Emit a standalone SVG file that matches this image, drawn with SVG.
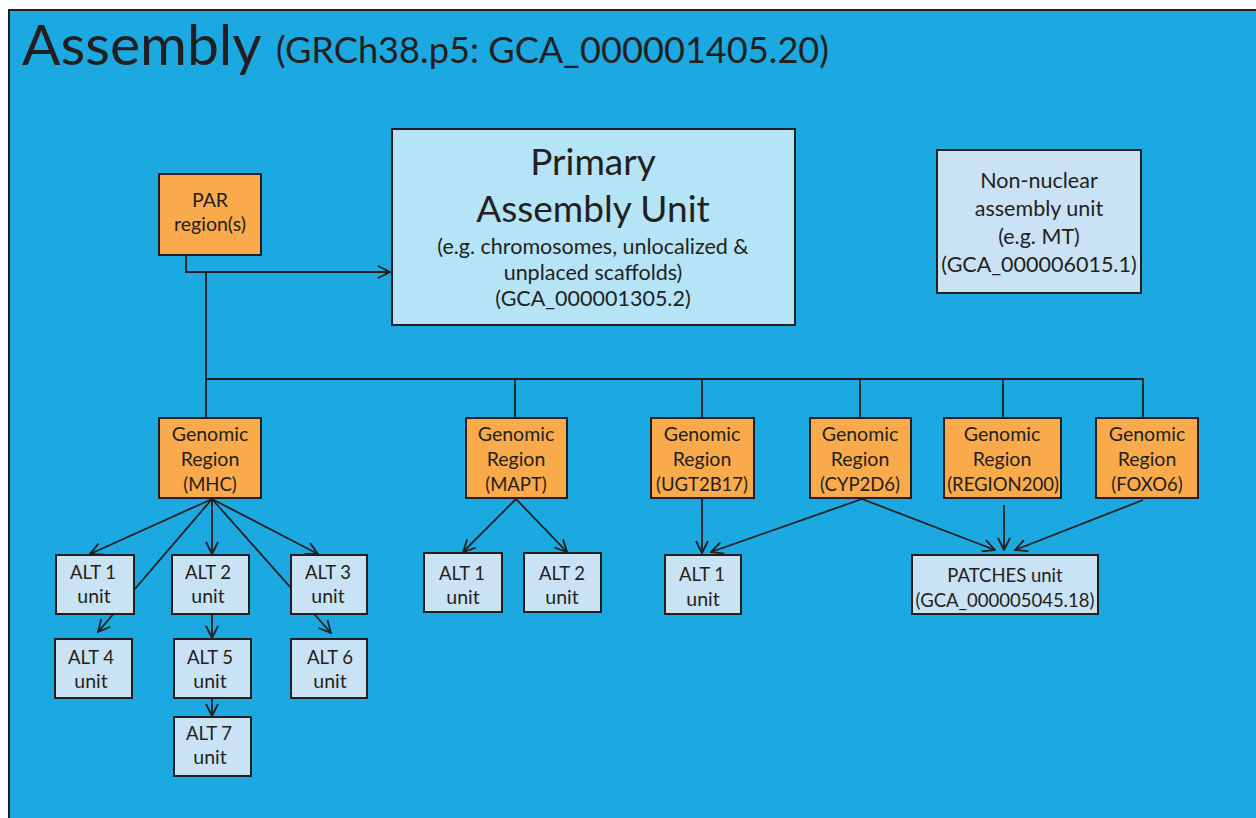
<svg xmlns="http://www.w3.org/2000/svg" width="1256" height="818" viewBox="0 0 1256 818">
<defs>
<style>
.t{font-family:Lato,"Open Sans","Liberation Sans",sans-serif;fill:#231F20;text-anchor:middle}
.s{font-size:19.5px}
.c{font-size:18.5px}
.org{fill:#F9AA4B;stroke:#231F20;stroke-width:2}
.lt{fill:#C9E2F4;stroke:#231F20;stroke-width:2}
.pr{fill:#B5E4F6;stroke:#231F20;stroke-width:2}
.ln{fill:none;stroke:#231F20;stroke-width:1.8}
</style>
<marker id="ar" viewBox="0 0 14 14" refX="13" refY="7" markerWidth="14" markerHeight="14" orient="auto" markerUnits="userSpaceOnUse">
<path d="M1,1 L13,7 L1,13" fill="none" stroke="#231F20" stroke-width="1.8"/>
</marker>
</defs>
<rect x="0" y="0" width="1256" height="818" fill="#FFFFFF"/>
<rect id="frame" x="9" y="10" width="1262" height="822" fill="#1CA8E0" stroke="#231F20" stroke-width="2"/>
<g id="title">
<text x="22" y="65" font-family="Lato,'Open Sans','Liberation Sans',sans-serif" font-size="57" fill="#231F20">Assembly</text>
<text x="276" y="63" font-family="Lato,'Open Sans','Liberation Sans',sans-serif" font-size="36.2" fill="#231F20">(GRCh38.p5: GCA_000001405.20)</text>
</g>
<g id="connectors">
<polyline class="ln" points="186,255 186,272 390,272" marker-end="url(#ar)"/>
<line class="ln" x1="206" y1="272" x2="206" y2="379"/>
<polyline class="ln" points="206,418 206,379 1143,379 1143,418"/>
<line class="ln" x1="515" y1="379" x2="515" y2="418"/>
<line class="ln" x1="702" y1="379" x2="702" y2="418"/>
<line class="ln" x1="860" y1="379" x2="860" y2="418"/>
<line class="ln" x1="1003" y1="379" x2="1003" y2="418"/>
<line class="ln" x1="212" y1="499" x2="90" y2="554" marker-end="url(#ar)"/>
<line class="ln" x1="212" y1="499" x2="98" y2="632" marker-end="url(#ar)"/>
<line class="ln" x1="212" y1="499" x2="212" y2="554" marker-end="url(#ar)"/>
<line class="ln" x1="212" y1="499" x2="331" y2="633" marker-end="url(#ar)"/>
<line class="ln" x1="212" y1="499" x2="318" y2="554" marker-end="url(#ar)"/>
<line class="ln" x1="212" y1="614" x2="212" y2="638" marker-end="url(#ar)"/>
<line class="ln" x1="212" y1="698" x2="212" y2="716" marker-end="url(#ar)"/>
<line class="ln" x1="516" y1="499" x2="463" y2="552" marker-end="url(#ar)"/>
<line class="ln" x1="516" y1="499" x2="567" y2="552" marker-end="url(#ar)"/>
<line class="ln" x1="702" y1="499" x2="702" y2="553" marker-end="url(#ar)"/>
<line class="ln" x1="862" y1="499" x2="711" y2="552" marker-end="url(#ar)"/>
<line class="ln" x1="862" y1="499" x2="995" y2="550" marker-end="url(#ar)"/>
<line class="ln" x1="1004" y1="505" x2="1004" y2="550" marker-end="url(#ar)"/>
<line class="ln" x1="1143" y1="500" x2="1015" y2="550" marker-end="url(#ar)"/>
</g>
<g id="par">
<rect class="org" x="159" y="174" width="102" height="81"/>
<text class="t s" x="210" y="207">PAR</text>
<text class="t s" x="210" y="231">region(s)</text>
</g>
<g id="primary">
<rect class="pr" x="392" y="129" width="403" height="196"/>
<text class="t" font-size="37" x="593" y="175">Primary</text>
<text class="t" font-size="37" x="593" y="222">Assembly Unit</text>
<text class="t" font-size="21.5" x="593" y="254">(e.g. chromosomes, unlocalized &amp;</text>
<text class="t" font-size="21.5" x="593" y="280">unplaced scaffolds)</text>
<text class="t" font-size="21.5" x="593" y="306">(GCA_000001305.2)</text>
</g>
<g id="nonnuclear">
<rect class="lt" x="937" y="150" width="204" height="143"/>
<text class="t" font-size="21.5" x="1039" y="188">Non-nuclear</text>
<text class="t" font-size="21.5" x="1039" y="216">assembly unit</text>
<text class="t" font-size="21.5" x="1039" y="244">(e.g. MT)</text>
<text class="t" font-size="21.5" x="1039" y="272">(GCA_000006015.1)</text>
</g>
<g id="gr-mhc">
<rect class="org" x="159" y="418" width="102" height="80"/>
<text class="t s" x="210" y="441">Genomic</text>
<text class="t s" x="210" y="466">Region</text>
<text class="t c" x="210" y="491">(MHC)</text>
</g>
<g id="gr-mapt">
<rect class="org" x="466" y="418" width="101" height="80"/>
<text class="t s" x="516" y="441">Genomic</text>
<text class="t s" x="516" y="466">Region</text>
<text class="t c" x="516" y="491">(MAPT)</text>
</g>
<g id="gr-ugt">
<rect class="org" x="651" y="418" width="103" height="80"/>
<text class="t s" x="702" y="441">Genomic</text>
<text class="t s" x="702" y="466">Region</text>
<text class="t c" x="702" y="491">(UGT2B17)</text>
</g>
<g id="gr-cyp">
<rect class="org" x="810" y="418" width="101" height="80"/>
<text class="t s" x="860" y="441">Genomic</text>
<text class="t s" x="860" y="466">Region</text>
<text class="t c" x="860" y="491">(CYP2D6)</text>
</g>
<g id="gr-region200">
<rect class="org" x="944" y="418" width="117" height="80"/>
<text class="t s" x="1002" y="441">Genomic</text>
<text class="t s" x="1002" y="466">Region</text>
<text class="t c" x="1003" y="491">(REGION200)</text>
</g>
<g id="gr-foxo6">
<rect class="org" x="1096" y="418" width="102" height="80"/>
<text class="t s" x="1147" y="441">Genomic</text>
<text class="t s" x="1147" y="466">Region</text>
<text class="t c" x="1147" y="491">(FOXO6)</text>
</g>
<g id="mhc-alt1">
<rect class="lt" x="56" y="555" width="78" height="59"/>
<text class="t c" x="93" y="579">ALT 1</text>
<text class="t s" x="94" y="603">unit</text>
</g>
<g id="mhc-alt2">
<rect class="lt" x="172" y="555" width="77" height="59"/>
<text class="t c" x="208" y="579">ALT 2</text>
<text class="t s" x="208" y="603">unit</text>
</g>
<g id="mhc-alt3">
<rect class="lt" x="291" y="555" width="76" height="59"/>
<text class="t c" x="328" y="579">ALT 3</text>
<text class="t s" x="328" y="603">unit</text>
</g>
<g id="mhc-alt4">
<rect class="lt" x="55" y="639" width="77" height="59"/>
<text class="t c" x="91" y="664">ALT 4</text>
<text class="t s" x="91" y="688">unit</text>
</g>
<g id="mhc-alt5">
<rect class="lt" x="174" y="639" width="77" height="59"/>
<text class="t c" x="210" y="664">ALT 5</text>
<text class="t s" x="210" y="688">unit</text>
</g>
<g id="mhc-alt6">
<rect class="lt" x="291" y="639" width="76" height="59"/>
<text class="t c" x="330" y="664">ALT 6</text>
<text class="t s" x="330" y="688">unit</text>
</g>
<g id="mhc-alt7">
<rect class="lt" x="174" y="717" width="77" height="59"/>
<text class="t c" x="209" y="740">ALT 7</text>
<text class="t s" x="210" y="764">unit</text>
</g>
<g id="mapt-alt1">
<rect class="lt" x="424" y="553" width="78" height="59"/>
<text class="t c" x="462" y="580">ALT 1</text>
<text class="t s" x="463" y="604">unit</text>
</g>
<g id="mapt-alt2">
<rect class="lt" x="524" y="553" width="77" height="59"/>
<text class="t c" x="562" y="580">ALT 2</text>
<text class="t s" x="562" y="604">unit</text>
</g>
<g id="ugt-alt1">
<rect class="lt" x="665" y="555" width="76" height="59"/>
<text class="t c" x="702" y="581">ALT 1</text>
<text class="t s" x="703" y="606">unit</text>
</g>
<g id="patches">
<rect class="lt" x="912" y="555" width="186" height="59"/>
<text class="t c" x="1005" y="582">PATCHES unit</text>
<text class="t c" x="1005" y="607">(GCA_000005045.18)</text>
</g>
</svg>
